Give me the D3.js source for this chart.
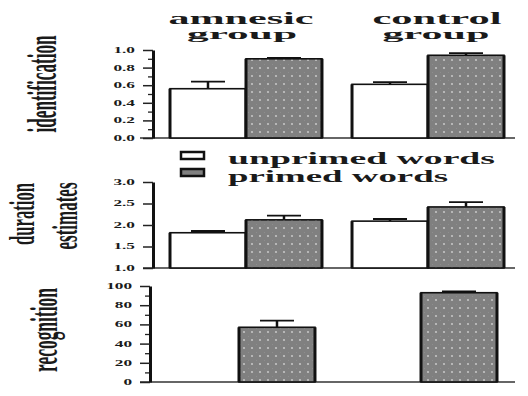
<!DOCTYPE html>
<html>
<head>
<meta charset="utf-8">
<script src="https://cdn.jsdelivr.net/npm/d3@7/dist/d3.min.js"></script>
<style>
  html, body { margin: 0; padding: 0; background: #fff; }
  svg { display: block; }
  text { font-family: "Liberation Serif", "DejaVu Serif", serif; fill: #1a1a1a; }
</style>
</head>
<body>
<svg id="chart" width="528" height="396"></svg>
<script>
// Groups and conditions
const groups = ["amnesic", "control"];
const groupTitles = [["amnesic", "group"], ["control", "group"]];
const conditions = ["unprimed words", "primed words"];

// Identification (proportion correct)
const identUnprimed = [0.56, 0.61];
const identUnprimedErr = [0.08, 0.025];
const identPrimed = [0.90, 0.94];
const identPrimedErr = [0.01, 0.025];
const identTicks = [0, 0.2, 0.4, 0.6, 0.8, 1.0];
const identMinor = [0.1, 0.3, 0.5, 0.7, 0.9];

// Duration estimates
const durUnprimed = [1.82, 2.09];
const durUnprimedErr = [0.04, 0.05];
const durPrimed = [2.12, 2.42];
const durPrimedErr = [0.10, 0.11];
const durTicks = [1.0, 1.5, 2.0, 2.5, 3.0];

// Recognition (primed words only)
const recogPrimed = [57, 93];
const recogPrimedErr = [7, 1.5];
const recogTicks = [0, 20, 40, 60, 80, 100];
const recogMinor = [10, 30, 50, 70, 90];

const svg = d3.select("#chart");

// dotted grey fill for primed bars
const defs = svg.append("defs");
const pat = defs.append("pattern")
  .attr("id", "dots").attr("patternUnits", "userSpaceOnUse")
  .attr("width", 8).attr("height", 8);
pat.append("rect").attr("width", 8).attr("height", 8).attr("fill", "#808080");
pat.append("circle").attr("cx", 4).attr("cy", 4).attr("r", 1.1).attr("fill", "#c4c4c4");
pat.append("circle").attr("cx", 0).attr("cy", 0).attr("r", 0.7).attr("fill", "#a4a4a4");

// stretch a text horizontally by a factor along its baseline
function stretch(sel, factor) {
  sel.each(function () {
    const w = this.getComputedTextLength();
    d3.select(this).attr("textLength", w * factor).attr("lengthAdjust", "spacingAndGlyphs");
  });
}

// vertical title: baseline at x, centred on y, squeezed to len, glyphs heightened
function vLabel(parent, text, x, y, len, heightScale) {
  const t = parent.append("text")
    .attr("text-anchor", "middle")
    .attr("font-weight", "bold")
    .attr("font-size", 16)
    .text(text);
  const w = t.node().getComputedTextLength();
  t.attr("transform", `translate(${x},${y}) rotate(-90) scale(${len / w},${heightScale})`);
}

function panel(opts) {
  const g = svg.append("g");
  const y = d3.scaleLinear().domain(opts.domain).range([opts.bottom, opts.top]);
  const x0 = d3.scaleBand().domain(groups).range(opts.xRange).paddingInner(0.165).paddingOuter(0);
  const x1 = d3.scaleBand().domain(conditions).range([0, x0.bandwidth()]);

  // baseline
  g.append("line")
    .attr("x1", opts.baseFrom).attr("x2", 515)
    .attr("y1", opts.bottom).attr("y2", opts.bottom)
    .attr("stroke", "#333").attr("stroke-width", 1.5);

  // bars
  opts.series.forEach(s => {
    groups.forEach((grp, i) => {
      const bx = x0(grp) + x1(s.cond);
      const bw = x1.bandwidth();
      const v = s.values[i];
      const top = y(v);
      const err = y(v + s.err[i]);
      const cx = bx + bw / 2;
      // error bar
      g.append("line").attr("x1", cx).attr("x2", cx).attr("y1", top).attr("y2", err)
        .attr("stroke", "#111").attr("stroke-width", 2.5);
      g.append("line").attr("x1", cx - 17).attr("x2", cx + 17).attr("y1", err).attr("y2", err)
        .attr("stroke", "#111").attr("stroke-width", 1.8);
      g.append("rect")
        .attr("x", bx).attr("y", top)
        .attr("width", bw).attr("height", opts.bottom - top)
        .attr("fill", s.cond === "primed words" ? "url(#dots)" : "#fff")
        .attr("stroke", "#111").attr("stroke-width", 1.6);
      // heavy vertical edges
      [bx, bx + bw].forEach(ex => {
        g.append("line").attr("x1", ex).attr("x2", ex).attr("y1", top).attr("y2", opts.bottom)
          .attr("stroke", "#111").attr("stroke-width", 3);
      });
    });
  });

  // minor ticks
  if (opts.minor) {
    g.append("g").attr("transform", `translate(${opts.axisX},0)`)
      .call(d3.axisLeft(y).tickValues(opts.minor).tickSize(5).tickSizeOuter(0).tickFormat(""))
      .call(a => a.select(".domain").remove())
      .call(a => a.selectAll("line").attr("stroke", "#222").attr("stroke-width", 1.3));
  }
  // major ticks and labels
  const ax = g.append("g").attr("transform", `translate(${opts.axisX},0)`)
    .call(d3.axisLeft(y).tickValues(opts.ticks).tickSize(10).tickSizeOuter(0)
      .tickPadding(8).tickFormat(d3.format(opts.fmt)));
  ax.select(".domain").attr("stroke", "#111").attr("stroke-width", 3);
  ax.selectAll(".tick line").attr("stroke", "#222").attr("stroke-width", 1.5);
  ax.selectAll("text")
    .attr("font-family", "Liberation Serif").attr("font-weight", "bold")
    .attr("font-size", 7.5).attr("fill", "#222")
    .call(stretch, 2.3);

  // rotated axis title lines
  opts.labels.forEach(l => vLabel(g, l.text, l.x, l.y, l.len, l.h));
}

panel({
  domain: [0, 1], top: 50, bottom: 138, axisX: 153, xRange: [170, 504], baseFrom: 140,
  ticks: identTicks, minor: identMinor, fmt: ".1f",
  series: [
    { cond: "unprimed words", values: identUnprimed, err: identUnprimedErr },
    { cond: "primed words", values: identPrimed, err: identPrimedErr }
  ],
  labels: [{ text: "identification", x: 56, y: 84, len: 97, h: 2.6 }]
});

panel({
  domain: [1, 3], top: 182, bottom: 268, axisX: 153, xRange: [170, 504], baseFrom: 143,
  ticks: durTicks, minor: null, fmt: ".1f",
  series: [
    { cond: "unprimed words", values: durUnprimed, err: durUnprimedErr },
    { cond: "primed words", values: durPrimed, err: durPrimedErr }
  ],
  labels: [
    { text: "duration", x: 34, y: 214, len: 62, h: 2.2 },
    { text: "estimates", x: 77, y: 216, len: 67, h: 2.3 }
  ]
});

panel({
  domain: [0, 100], top: 286, bottom: 382, axisX: 150, xRange: [163, 497], baseFrom: 140,
  ticks: recogTicks, minor: recogMinor, fmt: "d",
  series: [
    { cond: "primed words", values: recogPrimed, err: recogPrimedErr }
  ],
  labels: [{ text: "recognition", x: 57, y: 330, len: 84, h: 2.4 }]
});

// group titles
const titleX = [241, 437];
groupTitles.forEach((lines, i) => {
  svg.append("text").attr("x", titleX[i]).attr("y", 24)
    .attr("text-anchor", "middle").attr("font-weight", "bold").attr("font-size", 16)
    .attr("textLength", i === 0 ? 145 : 129).attr("lengthAdjust", "spacingAndGlyphs")
    .text(lines[0]);
  svg.append("text").attr("x", titleX[i] + (i === 0 ? 1 : -1)).attr("y", 39)
    .attr("text-anchor", "middle").attr("font-weight", "bold").attr("font-size", 15)
    .attr("textLength", i === 0 ? 110 : 107).attr("lengthAdjust", "spacingAndGlyphs")
    .text(lines[1]);
});

// legend
const legend = svg.append("g");
const legendRows = [
  { cond: conditions[0], y: 152, ty: 164, len: 267 },
  { cond: conditions[1], y: 169, ty: 182, len: 220 }
];
legendRows.forEach(r => {
  legend.append("rect").attr("x", 181).attr("y", r.y).attr("width", 23).attr("height", 7)
    .attr("fill", r.cond === "primed words" ? "#808080" : "#fff")
    .attr("stroke", "#111").attr("stroke-width", 2.5);
  legend.append("text").attr("x", 228).attr("y", r.ty)
    .attr("font-weight", "bold").attr("font-size", 17)
    .attr("textLength", r.len).attr("lengthAdjust", "spacingAndGlyphs")
    .text(r.cond);
});
</script>
</body>
</html>
